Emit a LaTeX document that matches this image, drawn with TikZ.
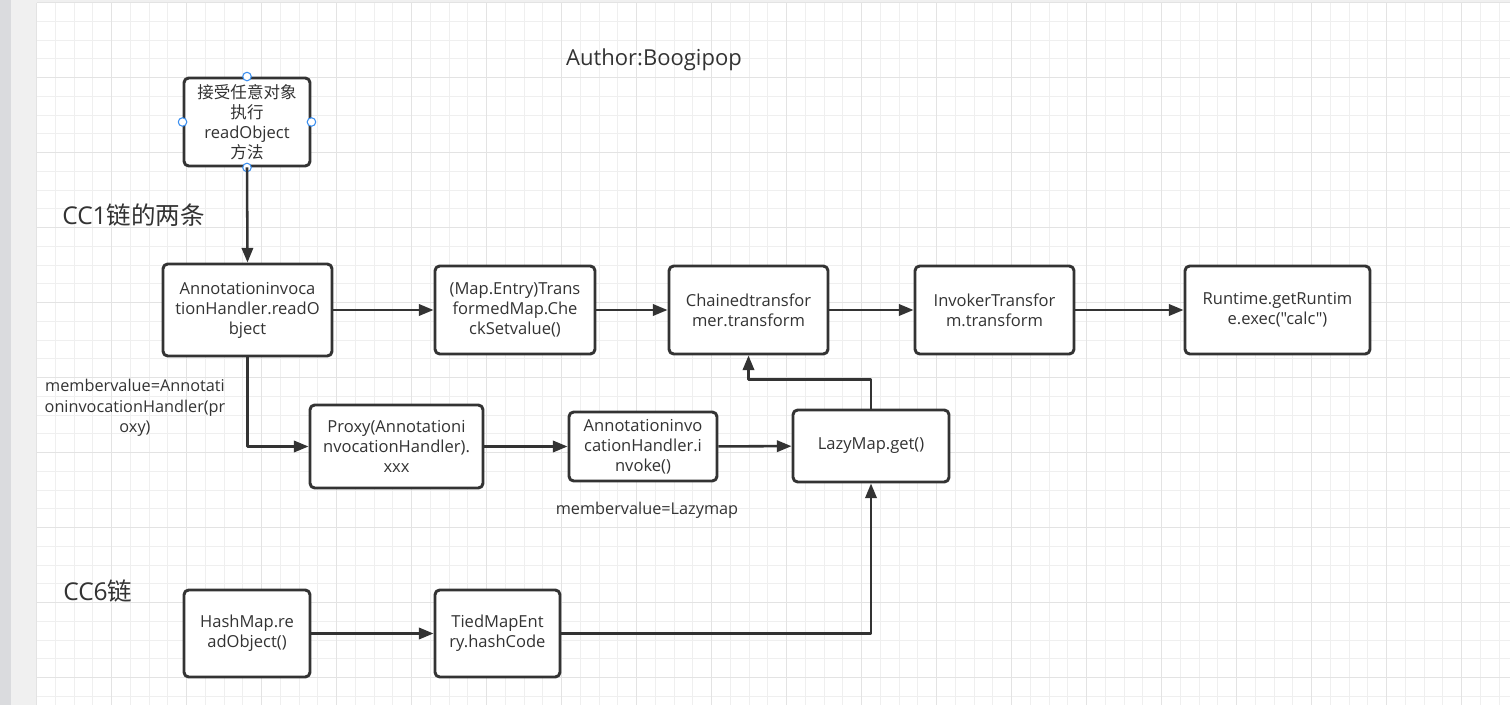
\documentclass[tikz,border=0pt]{standalone}
\usepackage{fontspec}
\setmainfont{Open Sans}[Ligatures=TeXOff]
\newfontfamily\cjk{Noto Sans CJK SC}
\usetikzlibrary{arrows.meta}
\definecolor{inkgrey}{HTML}{333333}
\definecolor{gridminor}{HTML}{EFEFEF}
\definecolor{gridmajor}{HTML}{E3E3E3}
\definecolor{panelgrey}{HTML}{F0F0F0}
\definecolor{railgrey}{HTML}{DADBDE}
\definecolor{handleblue}{HTML}{3B8FF0}

\begin{document}
\begin{tikzpicture}[
  x=0.75pt,
  y=-0.75pt,
  line join=round,
  chainbox/.style={draw=inkgrey,line width=2.2pt,rounded corners=3.5pt,fill=white,
    align=center,inner sep=0pt,text=inkgrey,font=\fontsize{12.4}{15}\selectfont},
  flow/.style={draw=inkgrey,line width=1.9pt,-{Triangle[length=11pt,width=8.5pt]}},
  note/.style={align=center,inner sep=0pt,text=inkgrey,font=\fontsize{12.2}{15.5}\selectfont},
  heading/.style={anchor=west,inner sep=0pt,text=inkgrey,font=\fontsize{18.4}{21}\selectfont},
  handle/.style={draw=handleblue,fill=white,line width=0.8pt}
]
  \useasboundingbox (0,0) rectangle (1510,705);

  % Canvas and grid.
  \fill[railgrey] (0,0) rectangle (11,705);
  \fill[panelgrey] (11,0) rectangle (1510,705);
  \fill[white] (37,2.7) rectangle (1510,705);
  \foreach \i in {0,...,78} {
    \draw[gridminor,line width=0.75pt] ({36.7+18.75*\i},2.7) -- ({36.7+18.75*\i},705);
  }
  \foreach \j in {0,...,37} {
    \draw[gridminor,line width=0.75pt] (37,{2.7+18.75*\j}) -- (1510,{2.7+18.75*\j});
  }
  \foreach \i in {0,...,19} {
    \draw[gridmajor,line width=0.75pt] ({36.7+75*\i},2.7) -- ({36.7+75*\i},705);
  }
  \foreach \j in {0,...,9} {
    \draw[gridmajor,line width=0.75pt] (37,{2.7+75*\j}) -- (1510,{2.7+75*\j});
  }

  % Headings and notes.
  \node[note,font=\fontsize{16.5}{19}\selectfont] (author) at (654,60) {Author:Boogipop};
  \node[heading] (cc1) at (62,215) {CC1{\cjk 链的两条}};
  \node[heading] (cc6) at (63,591) {CC6{\cjk 链}};
  \node[note] (proxynote) at (135,408) {membervalue=Annotati\\oninvocationHandler(pr\\oxy)};
  \node[note] (lazynote) at (647,510) {membervalue=Lazymap};

  % Boxes of the CC1 chain.
  \node[chainbox,minimum width=94.5pt,minimum height=66pt] (entry) at (247,122)
    {{\cjk 接受任意对象}\\{\cjk 执行}\\readObject\\{\cjk 方法}};
  \node[chainbox,minimum width=126.75pt,minimum height=69pt] (aihread) at (247.5,310)
    {Annotationinvoca\\tionHandler.readO\\bject};
  \node[chainbox,minimum width=120pt,minimum height=66pt] (checkset) at (515,310)
    {(Map.Entry)Trans\\formedMap.Che\\ckSetvalue()};
  \node[chainbox,minimum width=119.25pt,minimum height=66pt] (chained) at (748.5,310)
    {Chainedtransfor\\mer.transform};
  \node[chainbox,minimum width=119.25pt,minimum height=66pt] (invoker) at (994.5,310)
    {InvokerTransfor\\m.transform};
  \node[chainbox,minimum width=138.75pt,minimum height=66pt] (runtime) at (1277.5,310)
    {Runtime.getRuntim\\e.exec("calc")};
  \node[chainbox,minimum width=129.75pt,minimum height=62.25pt] (proxy) at (396.5,446.5)
    {Proxy(Annotationi\\nvocationHandler).\\xxx};
  \node[chainbox,minimum width=111pt,minimum height=51.75pt] (aihinvoke) at (643,446.5)
    {Annotationinvo\\cationHandler.i\\nvoke()};
  \node[chainbox,minimum width=117pt,minimum height=54pt] (lazyget) at (871,446)
    {LazyMap.get()};

  % Boxes of the CC6 chain.
  \node[chainbox,minimum width=94.5pt,minimum height=65.25pt] (hashread) at (247,633.5)
    {HashMap.re\\adObject()};
  \node[chainbox,minimum width=93.75pt,minimum height=65.25pt] (tiedhash) at (497.5,633.5)
    {TiedMapEnt\\ry.hashCode};

  % Selection handles on the first box.
  \foreach \a in {north,west,east,south} {
    \draw[handle] (entry.\a) circle[radius=3.2pt];
  }

  % Connectors.
  \draw[flow] (entry.south) -- (aihread.north);
  \draw[flow] (aihread) -- (checkset);
  \draw[flow] (checkset) -- (chained);
  \draw[flow] (chained) -- (invoker);
  \draw[flow] (invoker) -- (runtime);
  \draw[flow] (aihread.south) |- (proxy.west);
  \draw[flow] (proxy) -- (aihinvoke);
  \draw[flow] (aihinvoke) -- (lazyget);
  \draw[flow] (lazyget.north) -- ++(0,-29) -| (chained.south);
  \draw[flow] (hashread) -- (tiedhash);
  \draw[flow] (tiedhash.east) -| (lazyget.south);
\end{tikzpicture}
\end{document}
